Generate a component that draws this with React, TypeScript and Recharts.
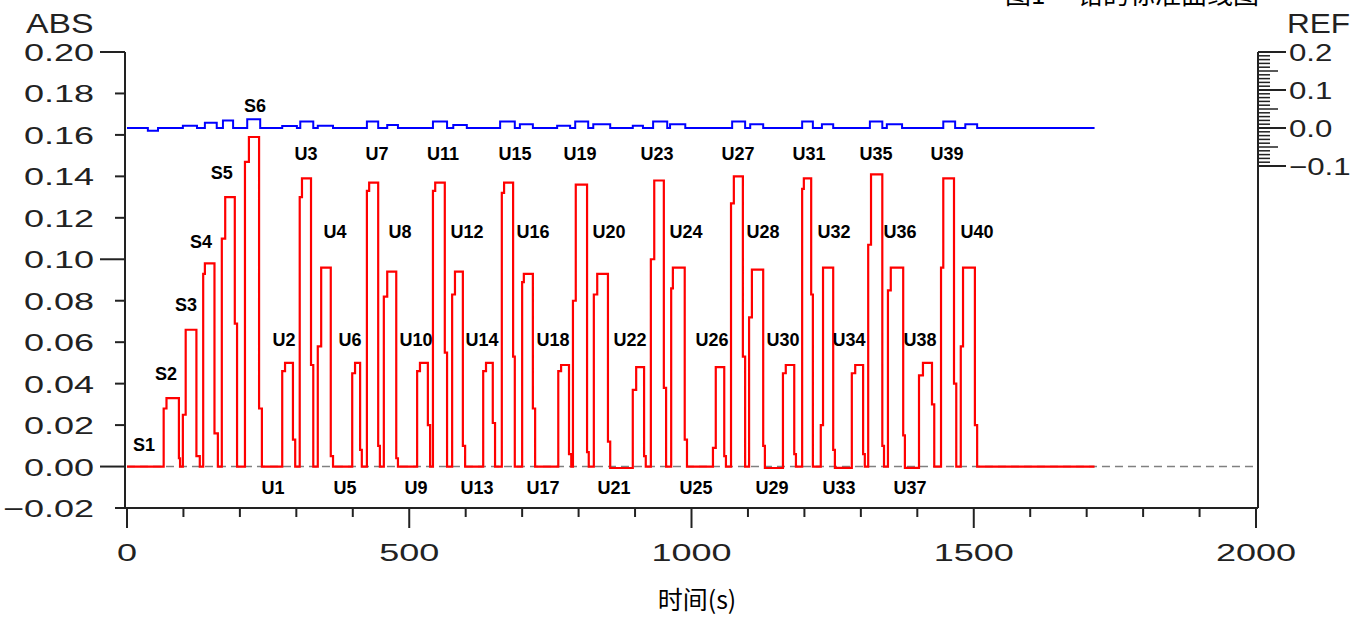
import { ComposedChart, Line, Scatter, XAxis, YAxis } from 'recharts'

// axis ticks
const timeTicks = [0, 100, 200, 300, 400, 500, 600, 700, 800, 900, 1000, 1100, 1200, 1300, 1400, 1500, 1600, 1700, 1800, 1900, 2000]
const absTicks = [-0.02, 0, 0.02, 0.04, 0.06, 0.08, 0.1, 0.12, 0.14, 0.16, 0.18, 0.2]
const refTicks = [
  -0.1, -0.09, -0.08, -0.07, -0.06, -0.05, -0.04, -0.03, -0.02, -0.01,
  0, 0.01, 0.02, 0.03, 0.04, 0.05, 0.06, 0.07, 0.08, 0.09,
  0.1, 0.11, 0.12, 0.13, 0.14, 0.15, 0.16, 0.17, 0.18, 0.19, 0.2,
]

// ABS trace (red): every peak rises in two steps, holds, falls in two steps
const peakNames = [
  'S2', 'S3', 'S4', 'S5', 'S6',
  'U2', 'U3', 'U4', 'U6', 'U7', 'U8', 'U10', 'U11', 'U12', 'U14', 'U15', 'U16',
  'U18', 'U19', 'U20', 'U22', 'U23', 'U24', 'U26', 'U27', 'U28', 'U30', 'U31', 'U32',
  'U34', 'U35', 'U36', 'U38', 'U39', 'U40',
]
const riseStart = [65, 99, 135, 168, 209, 275, 306, 338, 399, 425, 455, 514, 542, 576, 631, 664, 700, 764, 790, 827, 896, 928, 964, 1038, 1070, 1102, 1162, 1196, 1229, 1284, 1313, 1348, 1403, 1442, 1477]
const riseStep = [0.028, 0.025, 0.093, 0.11, 0.147, 0.046, 0.13, 0.058, 0.045, 0.133, 0.082, 0.046, 0.133, 0.083, 0.046, 0.132, 0.089, 0.046, 0.08, 0.083, 0.037, 0.1, 0.086, 0.009, 0.127, 0.072, 0.045, 0.134, 0.02, 0.045, 0.107, 0.085, 0.044, 0.096, 0.058]
const riseEnd = [70, 104, 138, 174, 216, 280, 310, 344, 404, 429, 461, 519, 546, 581, 636, 668, 703, 769, 795, 833, 902, 934, 967, 1043, 1075, 1107, 1167, 1199, 1233, 1290, 1318, 1353, 1410, 1446, 1481]
const peakTop = [0.033, 0.066, 0.098, 0.13, 0.159, 0.05, 0.139, 0.096, 0.05, 0.137, 0.094, 0.05, 0.137, 0.094, 0.05, 0.137, 0.093, 0.049, 0.136, 0.093, 0.048, 0.138, 0.096, 0.048, 0.14, 0.095, 0.049, 0.139, 0.096, 0.049, 0.141, 0.096, 0.05, 0.139, 0.096]
const fallStart = [92, 123, 155, 191, 234, 294, 326, 361, 413, 445, 477, 533, 563, 595, 648, 684, 719, 783, 815, 852, 916, 951, 988, 1058, 1091, 1127, 1182, 1212, 1251, 1304, 1338, 1375, 1426, 1465, 1502]
const fallStep = [0.004, 0.005, 0.016, 0.069, 0.028, 0.013, 0.049, 0.005, 0.008, 0.01, 0.004, 0.02, 0.055, 0.01, 0.021, 0.053, 0.028, 0.006, 0.007, 0.012, 0.005, 0.038, 0.013, 0.005, 0.053, 0.01, 0.006, 0.083, 0.008, 0.006, 0.01, 0.015, 0.03, 0.04, 0.02]
const fallEnd = [94, 129, 161, 195, 239, 298, 330, 365, 416, 448, 480, 537, 567, 599, 652, 687, 723, 787, 818, 856, 919, 955, 992, 1061, 1095, 1130, 1185, 1215, 1254, 1307, 1341, 1378, 1430, 1469, 1506]
const afterLevel = [0, 0, 0, 0, 0, 0, 0, 0, 0, 0, 0, 0, 0, 0, 0, 0, 0, 0, 0, -0.0007, 0, 0, 0, 0, 0, -0.0007, 0, 0, -0.0006, 0, 0, -0.0006, 0, 0, 0]
const traceEnd = 1714

// REF trace (blue): small steps on the right axis
const refBumpStart = [37, 99, 138, 170, 213, 275, 307, 338, 425, 461, 542, 578, 661, 696, 762, 794, 826, 896, 932, 962, 1072, 1104, 1196, 1231, 1316, 1346, 1446, 1485]
const refBumpEnd = [55, 124, 159, 188, 236, 301, 330, 365, 445, 480, 567, 602, 687, 719, 785, 817, 856, 914, 957, 989, 1095, 1127, 1215, 1251, 1338, 1373, 1467, 1506]
const refBumpLevel = [-0.007, 0.006, 0.014, 0.02, 0.023, 0.005, 0.017, 0.006, 0.017, 0.008, 0.017, 0.008, 0.017, 0.01, 0.006, 0.017, 0.01, 0.006, 0.017, 0.01, 0.017, 0.01, 0.017, 0.01, 0.017, 0.01, 0.017, 0.01]

// sample labels
const labelNames = [
  'S1', 'S2', 'S3', 'S4', 'S5', 'S6',
  'U1', 'U2', 'U3', 'U4', 'U5', 'U6', 'U7', 'U8', 'U9', 'U10',
  'U11', 'U12', 'U13', 'U14', 'U15', 'U16', 'U17', 'U18', 'U19', 'U20',
  'U21', 'U22', 'U23', 'U24', 'U25', 'U26', 'U27', 'U28', 'U29', 'U30',
  'U31', 'U32', 'U33', 'U34', 'U35', 'U36', 'U37', 'U38', 'U39', 'U40',
]
const labelTime = [
  30, 69, 104.5, 131, 168, 226.7,
  258.6, 278.1, 317.1, 368.5, 386.2, 395, 442.9, 483.6, 512, 512,
  559.8, 602.3, 620, 628.9, 687.3, 719.2, 736.9, 754.7, 802.5, 853.9,
  862.7, 891.1, 938.9, 990.3, 1008, 1036.3, 1082.4, 1126.7, 1142.6, 1162.1,
  1208.2, 1252.5, 1261.3, 1279, 1326.9, 1369.4, 1387.1, 1404.8, 1452.6, 1505.8,
]
const labelAbs = [
  0.0104, 0.0451, 0.0784, 0.1088, 0.1421, 0.1744,
  -0.0099, 0.0615, 0.1508, 0.1136, -0.0099, 0.0615, 0.1508, 0.1136, -0.0099, 0.0615,
  0.1508, 0.1136, -0.0099, 0.0615, 0.1508, 0.1136, -0.0099, 0.0615, 0.1508, 0.1136,
  -0.0099, 0.0615, 0.1508, 0.1136, -0.0099, 0.0615, 0.1508, 0.1136, -0.0099, 0.0615,
  0.1508, 0.1136, -0.0099, 0.0615, 0.1508, 0.1136, -0.0099, 0.0615, 0.1508, 0.1136,
]

const redPoints: { t: number; v: number }[] = [{ t: 0, v: 0 }]
peakNames.forEach((_, i) => {
  redPoints.push(
    { t: riseStart[i], v: riseStep[i] },
    { t: riseEnd[i], v: peakTop[i] },
    { t: fallStart[i], v: fallStep[i] },
    { t: fallEnd[i], v: afterLevel[i] },
  )
})
redPoints.push({ t: traceEnd, v: 0 })

const bluePoints: { t: number; v: number }[] = [{ t: 0, v: 0 }]
refBumpStart.forEach((s, i) => {
  bluePoints.push({ t: s, v: refBumpLevel[i] }, { t: refBumpEnd[i], v: 0 })
})
bluePoints.push({ t: traceEnd, v: 0 })

const zeroLine = [
  { t: 0, v: 0 },
  { t: 2000, v: 0 },
]

const labelPoints = labelNames.map((name, i) => ({ name, t: labelTime[i], v: labelAbs[i] }))

const INK = '#222'
const AXIS_FONT = "'Liberation Sans', Arial, sans-serif"
const CJK_FONT = "'Noto Sans CJK SC', sans-serif"

function isMultiple(v: number, step: number) {
  const r = v / step
  return Math.abs(r - Math.round(r)) < 1e-6
}

function fmt(v: number, digits: number) {
  const s = Math.abs(v).toFixed(digits)
  return v < -1e-9 ? `\u2212${s}` : s
}

function TimeTick({ x, y, payload }: any) {
  const major = isMultiple(payload.value, 500)
  return (
    <g>
      <line x1={x} x2={x} y1={y} y2={y + (major ? 20 : 9)} stroke={INK} strokeWidth={2} />
      {major && (
        <text
          transform={`translate(${x},${y + 53}) scale(1.5,1)`}
          textAnchor="middle"
          fontSize={24}
          fill={INK}
          fontFamily={AXIS_FONT}
        >
          {payload.value}
        </text>
      )}
    </g>
  )
}

function AbsTick({ x, y, payload }: any) {
  const major = isMultiple(payload.value, 0.1)
  return (
    <g>
      <line x1={x - (major ? 25 : 10)} x2={x} y1={y} y2={y} stroke={INK} strokeWidth={2} />
      <text
        transform={`translate(${x - 31},${y + 9}) scale(1.5,1)`}
        textAnchor="end"
        fontSize={24}
        fill={INK}
        fontFamily={AXIS_FONT}
      >
        {fmt(payload.value, 2)}
      </text>
    </g>
  )
}

function RefTick({ x, y, payload }: any) {
  const v = payload.value
  const major = isMultiple(v, 0.1)
  const len = major ? 28 : isMultiple(v, 0.05) ? 20 : 12
  return (
    <g>
      <line x1={x} x2={x + len} y1={y} y2={y} stroke={INK} strokeWidth={major ? 2 : 1.5} />
      {major && (
        <text
          transform={`translate(${x + 31},${y + 9}) scale(1.3,1)`}
          textAnchor="start"
          fontSize={24}
          fill={INK}
          fontFamily={AXIS_FONT}
        >
          {fmt(v, 1)}
        </text>
      )}
    </g>
  )
}

function PeakLabel(props: any) {
  const { cx, cy, payload } = props
  return (
    <text
      x={cx}
      y={cy + 6.5}
      textAnchor="middle"
      fontSize={18}
      fontWeight="bold"
      fill="#000"
      fontFamily={AXIS_FONT}
    >
      {payload.name}
    </text>
  )
}

export default function App() {
  return (
    <div style={{ position: 'absolute', left: 0, top: 0, width: 1363, height: 617, background: '#fff' }}>
      <ComposedChart width={1363} height={617} margin={{ top: 52, right: 0, bottom: 0, left: 0 }}>
        <XAxis
          dataKey="t"
          type="number"
          domain={[-3.5, 2003.5]}
          allowDataOverflow
          ticks={timeTicks}
          interval={0}
          height={109}
          tickSize={0}
          tickMargin={0}
          tickLine={false}
          axisLine={{ stroke: INK, strokeWidth: 2 }}
          tick={<TimeTick />}
        />
        <YAxis
          yAxisId="abs"
          type="number"
          domain={[-0.02, 0.2]}
          allowDataOverflow
          ticks={absTicks}
          interval={0}
          width={125}
          tickSize={0}
          tickMargin={0}
          tickLine={false}
          axisLine={{ stroke: INK, strokeWidth: 2 }}
          tick={<AbsTick />}
        />
        <YAxis
          yAxisId="ref"
          orientation="right"
          type="number"
          domain={[-1, 0.2]}
          allowDataOverflow
          ticks={refTicks}
          interval={0}
          width={105}
          tickSize={0}
          tickMargin={0}
          tickLine={false}
          axisLine={{ stroke: INK, strokeWidth: 2 }}
          tick={<RefTick />}
        />
        <Line
          yAxisId="abs"
          data={zeroLine}
          dataKey="v"
          stroke="#808080"
          strokeWidth={1.5}
          strokeDasharray="8 5"
          dot={false}
          isAnimationActive={false}
        />
        <Line
          yAxisId="ref"
          data={bluePoints}
          dataKey="v"
          type="stepAfter"
          stroke="#0000ff"
          strokeWidth={2}
          dot={false}
          isAnimationActive={false}
        />
        <Line
          yAxisId="abs"
          data={redPoints}
          dataKey="v"
          type="stepAfter"
          stroke="#ff0000"
          strokeWidth={2.2}
          dot={false}
          isAnimationActive={false}
        />
        <Scatter yAxisId="abs" data={labelPoints} dataKey="v" shape={PeakLabel} isAnimationActive={false} />
      </ComposedChart>
      <svg
        width={1363}
        height={617}
        style={{ position: 'absolute', left: 0, top: 0, pointerEvents: 'none' }}
      >
        <text transform="translate(26,33) scale(1.25,1)" fontSize={27} fill={INK} fontFamily={AXIS_FONT}>
          ABS
        </text>
        <text transform="translate(1287,33) scale(1.17,1)" fontSize={27} fill={INK} fontFamily={AXIS_FONT}>
          REF
        </text>
        <text x={1005} y={4} fontSize={26} fill="#000" fontFamily={CJK_FONT}>
          图1
        </text>
        <text x={1077} y={4} fontSize={26} fill="#000" fontFamily={CJK_FONT}>
          铅的标准曲线图
        </text>
        <text x={697} y={609} textAnchor="middle" fontSize={25} fill="#000" fontFamily={CJK_FONT}>
          时间(s)
        </text>
      </svg>
    </div>
  )
}
